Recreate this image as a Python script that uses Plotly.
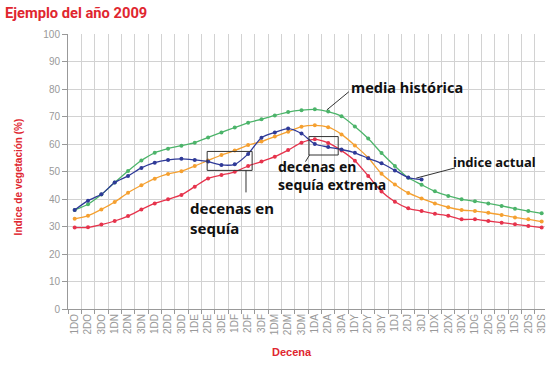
import plotly.graph_objects as go

labels = ["1DO","2DO","3DO","1DN","2DN","3DN","1DD","2DD","3DD","1DE","2DE","3DE",
          "1DF","2DF","3DF","1DM","2DM","3DM","1DA","2DA","3DA","1DY","2DY","3DY",
          "1DJ","2DJ","3DJ","1DX","2DX","3DX","1DG","2DG","3DG","1DS","2DS","3DS"]

media_historica = [36, 38.1, 41.6, 46, 50.2, 54, 56.8, 58.3, 59.4, 60.5, 62.4, 64.2,
                   66, 67.7, 69, 70.4, 71.6, 72.3, 72.6, 71.8, 70.1, 66.4, 62, 56.7,
                   52, 47.7, 45.2, 42.8, 41.1, 39.9, 39.2, 38.4, 37.5, 36.5, 35.6, 34.8]

serie_naranja = [32.8, 33.9, 36.2, 38.9, 42.3, 45, 47.4, 49.1, 50.1, 52, 54, 56,
                 57.6, 59.6, 60.9, 62.7, 64.5, 66.3, 66.8, 66.1, 63.5, 59.5, 55, 49.2,
                 45.3, 42.2, 40.2, 38.4, 37, 36, 35.6, 35, 34.2, 33.3, 32.6, 31.8]

serie_roja = [29.6, 29.7, 30.7, 32, 33.8, 36.2, 38.4, 39.9, 41.5, 44.5, 47.5, 48.7,
              49.9, 52, 53.6, 55.4, 57.8, 60.5, 61.7, 60.4, 57.6, 53.9, 48.4, 42.7,
              39, 36.6, 35.6, 34.6, 33.9, 32.6, 32.6, 32, 31.4, 30.8, 30.2, 29.6]

indice_actual = [36, 39.4, 41.7, 46, 48.4, 51.3, 53.2, 54.2, 54.6, 54.2, 53.6, 52.4,
                 52.6, 56.4, 62.3, 64.2, 65.6, 63.8, 60, 58.9, 58, 56.8, 54.8, 53,
                 50.4, 47.8, 47.1] + [None] * 9

series = [
    (media_historica, "#4cb46a"),
    (serie_naranja, "#f5a030"),
    (serie_roja, "#e6334c"),
    (indice_actual, "#2f3a98"),
]

fig = go.Figure()
for vals, color in series:
    fig.add_trace(go.Scatter(
        x=labels, y=vals, mode="lines+markers",
        line=dict(color=color, width=1.3, shape="spline", smoothing=0.7),
        marker=dict(size=4, color=color),
        connectgaps=False, hoverinfo="skip"))

box_col = "#333333"
shapes = [
    dict(type="rect", xref="x", yref="y", x0=9.93, x1=13.3, y0=50.4, y1=57.3,
         line=dict(color=box_col, width=1)),
    dict(type="rect", xref="x", yref="y", x0=17.56, x1=19.75, y0=56, y1=62.7,
         line=dict(color=box_col, width=1)),
    dict(type="line", xref="x", yref="y", x0=12.84, x1=12.84, y0=50.4, y1=42.4,
         line=dict(color=box_col, width=1)),
    dict(type="line", xref="x", yref="y", x0=17.6, x1=17.3, y0=56, y1=53.6,
         line=dict(color=box_col, width=1)),
    dict(type="line", xref="x", yref="y", x0=18.9, x1=20.55, y0=72.4, y1=79,
         line=dict(color=box_col, width=1)),
    dict(type="line", xref="x", yref="y", x0=25.6, x1=28.5, y0=47.6, y1=51.3,
         line=dict(color=box_col, width=1)),
]

annotations = [
    dict(text="<b>decenas en<br>sequía</b>", x=8.5, y=33.1, xref="x", yref="y",
         xanchor="left", yanchor="middle", align="left", showarrow=False,
         font=dict(family="Noto Sans", size=15, color="#111111")),
    dict(text="<b>decenas en<br>sequía extrema</b>", x=15.1, y=48.7, xref="x", yref="y",
         xanchor="left", yanchor="middle", align="left", showarrow=False,
         font=dict(family="Noto Sans", size=14, color="#111111")),
    dict(text="<b>media histórica</b>", x=24.87, y=80.7, xref="x", yref="y",
         xanchor="center", yanchor="middle", showarrow=False,
         font=dict(family="Noto Sans", size=14.5, color="#111111")),
    dict(text="<b>indice actual</b>", x=31.5, y=53.5, xref="x", yref="y",
         xanchor="center", yanchor="middle", showarrow=False,
         font=dict(family="Noto Sans", size=13, color="#111111")),
    dict(text="<b>Indice de vegetación (%)</b>", x=-0.104, y=0.48, xref="paper", yref="paper",
         textangle=-90, showarrow=False, xanchor="center", yanchor="middle",
         font=dict(family="Liberation Sans", size=10, color="#e0262f")),
    dict(text="<b>Decena</b>", x=0.47, y=-0.156, xref="paper", yref="paper",
         showarrow=False, xanchor="center", yanchor="middle",
         font=dict(family="Liberation Sans", size=11, color="#e0262f")),
]

fig.update_layout(
    width=547, height=366,
    margin=dict(l=68, r=0, t=34, b=57),
    paper_bgcolor="white", plot_bgcolor="white",
    showlegend=False,
    title=dict(text="<b>Ejemplo del año 2009</b>", x=0.009, xanchor="left",
               xref="container", y=0.964, yref="container", yanchor="middle",
               font=dict(family="Roboto", size=14.7, color="#e0262f")),
    shapes=shapes,
    annotations=annotations,
)

fig.update_xaxes(
    type="category", tickson="boundaries", range=[-0.5, 35.25],
    showgrid=True, gridcolor="#d2d2d2", gridwidth=1,
    ticks="outside", ticklen=4, tickcolor="#999999",
    showline=True, linecolor="#999999", linewidth=1,
    tickangle=-90, tickfont=dict(family="Liberation Sans", size=10, color="#999999"),
)
fig.update_yaxes(
    range=[0, 100], dtick=10, tick0=0,
    showgrid=True, gridcolor="#d2d2d2", gridwidth=1,
    ticks="outside", ticklen=5, tickcolor="#999999",
    showline=True, linecolor="#999999", linewidth=1, zeroline=False,
    tickfont=dict(family="Liberation Sans", size=10, color="#999999"),
)

fig.write_html(
    "out.html",
    config={"displayModeBar": False},
    post_script="document.body.style.margin='0';document.body.style.padding='0';",
)
